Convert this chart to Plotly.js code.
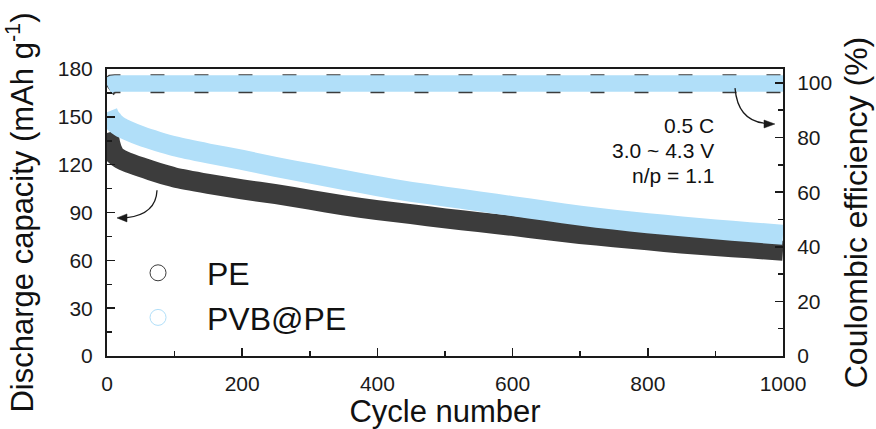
<!DOCTYPE html>
<html><head><meta charset="utf-8">
<script src="https://cdn.plot.ly/plotly-3.0.1.min.js"></script>
<style>html,body{margin:0;padding:0;background:#fff}</style>
</head><body>
<div id="chart" style="width:876px;height:429px"></div>
<script>
// Discharge capacity (mAh g-1)
const capCycles = [1, 3, 5, 8, 12, 20, 30, 50, 75, 100, 150, 200, 250, 300, 350, 400, 450, 500, 550, 600, 650, 700, 750, 800, 850, 900, 950, 1000];
const peCapacity = [140, 137, 133, 129, 126, 123.5, 121.5, 118.5, 115, 112, 108, 104.5, 101.5, 98, 94.5, 91.5, 89, 86.3, 84, 81.6, 79, 76.5, 74.5, 72.5, 70.5, 69, 67.5, 66];
const pvbCapacity = [153, 151, 149.5, 148, 146, 143.5, 141.5, 138, 134.5, 131.5, 127, 123, 118.5, 114.5, 110.5, 106.5, 103, 100, 97, 94, 91, 88, 85.5, 83.3, 81.3, 79.4, 77.7, 76];
// Coulombic efficiency (%)
const ceCycles = [1, 2, 3, 5, 8, 12, 20, 50, 100, 150, 200, 250, 300, 350, 400, 450, 500, 550, 600, 650, 700, 750, 800, 850, 900, 950, 1000];
const peCE = [98.3, 98.8, 99.2, 99.4, 99.6, 99.7, 99.7, 99.7, 99.7, 99.7, 99.7, 99.7, 99.7, 99.7, 99.7, 99.7, 99.7, 99.7, 99.7, 99.7, 99.7, 99.7, 99.7, 99.7, 99.7, 99.7, 99.7];
const pvbCE = [98.8, 99.2, 99.5, 99.6, 99.7, 99.8, 99.8, 99.8, 99.8, 99.8, 99.8, 99.8, 99.8, 99.8, 99.8, 99.8, 99.8, 99.8, 99.8, 99.8, 99.8, 99.8, 99.8, 99.8, 99.8, 99.8, 99.8];
const seriesNames = ['PE', 'PVB@PE'];
const xTicks = [0, 200, 400, 600, 800, 1000];
const conditionLines = ['0.5 C', '3.0 ~ 4.3 V', 'n/p = 1.1'];

const DARK = '#3c3c3c';
const BLUE = '#b1dff9';
const INK = '#1a1a1a';
const FONT = 'Arial, "Liberation Sans", sans-serif';

const traces = [
  {x: capCycles, y: peCapacity, mode: 'lines', line: {color: DARK, width: 20, shape: 'spline', smoothing: 0.6}, showlegend: false, hoverinfo: 'skip'},
  {x: capCycles, y: pvbCapacity, mode: 'lines', line: {color: BLUE, width: 20, shape: 'spline', smoothing: 0.6}, showlegend: false, hoverinfo: 'skip'},
  {x: ceCycles, y: peCE, yaxis: 'y2', mode: 'lines', line: {color: DARK, width: 19, dash: '14px,30px', shape: 'linear'}, showlegend: false, hoverinfo: 'skip'},
  {x: ceCycles, y: pvbCE, yaxis: 'y2', mode: 'lines', line: {color: BLUE, width: 16.5, shape: 'linear'}, showlegend: false, hoverinfo: 'skip'},
  {x: [null], y: [null], name: seriesNames[0], mode: 'markers', legendgroup: 'a',
   marker: {symbol: 'circle-open', size: 17, color: DARK, line: {width: 1, color: DARK}}},
  {x: [null], y: [null], name: seriesNames[1], mode: 'markers', legendgroup: 'b',
   marker: {symbol: 'circle-open', size: 17, color: BLUE, line: {width: 1, color: BLUE}}}
];

const axisCommon = {
  showline: true, linecolor: INK, linewidth: 2, ticks: 'inside', tickcolor: INK,
  tickwidth: 1.5, ticklen: 8, showgrid: false, zeroline: false,
  tickfont: {family: FONT, size: 21, color: INK},
  minor: {ticks: 'inside', ticklen: 5, tickwidth: 1.5, tickcolor: INK, showgrid: false}
};

const layout = {
  width: 876, height: 429,
  margin: {l: 107, r: 93, t: 69, b: 73},
  paper_bgcolor: '#fff', plot_bgcolor: '#fff',
  font: {family: FONT, color: INK},
  showlegend: true,
  legend: {x: 0.003, y: 0.385, xanchor: 'left', yanchor: 'top', traceorder: 'grouped', tracegroupgap: 0,
           font: {family: FONT, size: 32, color: '#111'}, bgcolor: 'rgba(0,0,0,0)', itemwidth: 88, itemsizing: 'trace'},
  xaxis: Object.assign({}, axisCommon, {
    range: [0, 1000], tickvals: xTicks, ticktext: xTicks.map(String), mirror: true,
    minor: Object.assign({}, axisCommon.minor, {dtick: 100, tick0: 0}),
    ticklabelstandoff: 8,
    title: {text: 'Cycle number', font: {family: FONT, size: 31, color: '#111'}, standoff: 4}
  }),
  yaxis: Object.assign({}, axisCommon, {
    range: [0, 180], dtick: 30, tick0: 0, mirror: false,
    minor: Object.assign({}, axisCommon.minor, {dtick: 15, tick0: 0}),
    ticklabelstandoff: 8,
    title: {text: 'Discharge capacity (mAh g<sup>-1</sup>)', font: {family: FONT, size: 31, color: '#111'}, standoff: 16}
  }),
  yaxis2: Object.assign({}, axisCommon, {
    overlaying: 'y', side: 'right', range: [0, 105.1], dtick: 20, tick0: 0,
    minor: Object.assign({}, axisCommon.minor, {dtick: 10, tick0: 0}),
    ticklabelstandoff: 8,
    title: {text: 'Coulombic efficiency (%)', font: {family: FONT, size: 32, color: '#111'}, standoff: 13}
  }),
  shapes: [
    {type: 'path', xref: 'x', yref: 'y', path: 'M 929,168 Q 933,148 972,146', line: {color: INK, width: 1.3}},
    {type: 'path', xref: 'x', yref: 'y', path: 'M 988,145.5 L 971.9,148 L 971.9,143 Z', fillcolor: INK, line: {color: INK, width: 0.5}},
    {type: 'path', xref: 'x', yref: 'y', path: 'M 74,104 Q 72.5,89 29.6,86.8', line: {color: INK, width: 1.3}},
    {type: 'path', xref: 'x', yref: 'y', path: 'M 14.8,86.6 L 29.6,89.1 L 29.6,84.1 Z', fillcolor: INK, line: {color: INK, width: 0.5}}
  ],
  annotations: [
    {x: 901, y: 144.3, xref: 'x', yref: 'y', text: conditionLines[0], showarrow: false, xanchor: 'right', yanchor: 'middle', font: {family: FONT, size: 21, color: '#111'}},
    {x: 901, y: 128.6, xref: 'x', yref: 'y', text: conditionLines[1], showarrow: false, xanchor: 'right', yanchor: 'middle', font: {family: FONT, size: 21, color: '#111'}},
    {x: 901, y: 112.9, xref: 'x', yref: 'y', text: conditionLines[2], showarrow: false, xanchor: 'right', yanchor: 'middle', font: {family: FONT, size: 21, color: '#111'}}
  ]
};

Plotly.newPlot('chart', traces, layout, {displayModeBar: false, staticPlot: true});
</script>
</body></html>
